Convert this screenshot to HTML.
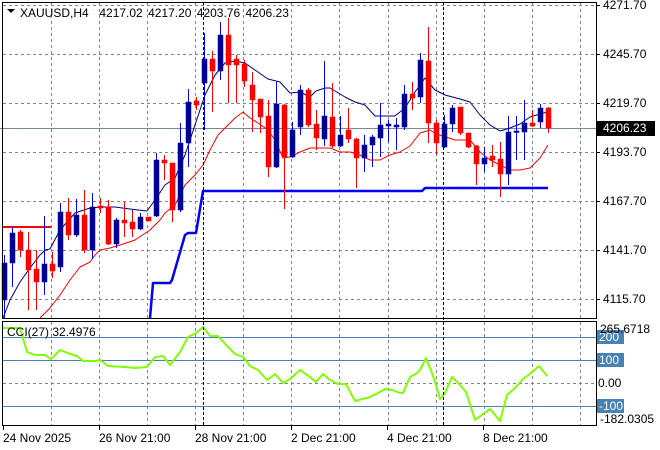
<!DOCTYPE html>
<html><head><meta charset="utf-8"><style>
html,body{margin:0;padding:0;background:#fff;}
svg{display:block;font-family:"Liberation Sans",sans-serif;font-size:12px;}
</style></head><body>
<svg id="s" width="660" height="450" xmlns="http://www.w3.org/2000/svg">
<rect width="660" height="450" fill="#fff"/>
<g id="grid" stroke="#7a8591" stroke-dasharray="3,3" stroke-width="1"></g>
<line x1="0" y1="128.5" x2="596" y2="128.5" stroke="#778899" stroke-width="1"/>
<g id="main"></g>
<line x1="203.5" y1="2" x2="203.5" y2="425" stroke="#000" stroke-dasharray="3,2"/>
<line x1="443.5" y1="2" x2="443.5" y2="425" stroke="#000" stroke-dasharray="3,2"/>
<rect x="2.5" y="2.5" width="594" height="316" fill="none" stroke="#000"/>
<rect x="2.5" y="321.5" width="594" height="104" fill="none" stroke="#000"/>
<text x="20" y="17" fill="#000" xml:space="preserve" style="word-spacing:2px">XAUUSD,H4  4217.02 4217.20 4203.76 4206.23</text>
<path d="M7,9 L15,9 L11,13 Z" fill="#000"/>
<text x="7" y="336" fill="#000">CCI(27) 32.4976</text>
<g id="ax"></g>
</svg>
<script>
var NS="http://www.w3.org/2000/svg";
function el(p,t,a,txt){var e=document.createElementNS(NS,t);for(var k in a)e.setAttribute(k,a[k]);if(txt!==undefined)e.textContent=txt;p.appendChild(e);return e;}
var g=document.getElementById('grid'),m=document.getElementById('main'),ax=document.getElementById('ax');
var hy=[5,54,103,152,201,250,299],hl=["4271.70","4245.70","4219.70","4193.70","4167.70","4141.70","4115.70"];
var vx=[51,99,147,195,243,291,339,388,436,484,532,580];
vx.forEach(function(x){el(g,'line',{x1:x+.5,y1:3,x2:x+.5,y2:318});el(g,'line',{x1:x+.5,y1:322,x2:x+.5,y2:425});});
hy.forEach(function(y,i){el(g,'line',{x1:3,y1:y+.5,x2:596,y2:y+.5});el(ax,'line',{x1:596,y1:y+.5,x2:600,y2:y+.5,stroke:'#000'});el(ax,'text',{x:603,y:y+4,fill:'#000'},hl[i]);});
[337,360,406].forEach(function(y){el(m,'line',{x1:3,y1:y+.5,x2:596,y2:y+.5,stroke:'#4682b4'});});
el(g,'line',{x1:3,y1:383.5,x2:596,y2:383.5});
el(m,'line',{x1:3,y1:227,x2:51,y2:227,stroke:'#ff0000','stroke-width':2});
var C=[[263,300,255,318,'b'],[233,263,227,287,'b'],[232,250,230,257,'r'],[250,270,232,310,'r'],[269,282,250,310,'r'],[264,282,216,295,'b'],[264,271,252,278,'r'],[212,267,203,272,'b'],[212,235,198,240,'r'],[215,235,199,237,'b'],[215,250,190,253,'r'],[207,250,193,259,'b'],[206,208,198,213,'r'],[207,244,200,245,'r'],[220,244,218,248,'b'],[220,223,202,237,'r'],[222,229,210,237,'r'],[217,229,213,230,'b'],[217,221,217,221,'r'],[160,216,153,217,'b'],[160,163,155,180,'r'],[163,210,163,222,'r'],[143,210,123,212,'b'],[102,143,89,167,'b'],[101,105,97,110,'r'],[59,83,33,130,'b'],[59,71,51,112,'r'],[35,71,22,80,'b'],[35,65,18,103,'r'],[59,65,55,103,'r'],[64,81,60,87,'r'],[85,100,72,132,'r'],[99,117,99,133,'r'],[116,167,100,177,'r'],[104,167,82,168,'b'],[105,157,104,209,'r'],[130,157,122,158,'b'],[90,127,85,135,'b'],[90,125,88,127,'r'],[124,138,110,150,'r'],[116,139,61,146,'b'],[117,146,83,148,'r'],[135,146,116,147,'b'],[130,139,108,143,'r'],[139,158,138,188,'r'],[145,158,135,172,'b'],[137,145,135,167,'b'],[125,138,103,157,'b'],[124,126,120,142,'b'],[125,127,118,150,'b'],[94,127,85,130,'b'],[94,98,82,110,'r'],[60,97,53,103,'b'],[61,123,27,143,'r'],[123,143,120,155,'r'],[124,147,115,148,'b'],[108,124,105,132,'b'],[107,133,107,135,'r'],[133,147,133,148,'r'],[146,164,145,185,'r'],[158,164,147,172,'b'],[156,160,145,167,'r'],[159,174,142,197,'r'],[132,174,116,185,'b'],[131,132,116,160,'b'],[123,132,100,160,'b'],[123,126,110,127,'r'],[108,122,104,128,'b'],[108,128,107,133,'r']];
function pl(pts,col,w){el(m,'polyline',{points:pts.map(function(p){return p.join(',')}).join(' '),fill:'none',stroke:col,'stroke-width':w,'stroke-linejoin':'round'});}
pl([[3,318],[10,300],[20,282],[30,268],[40,255],[45,250],[50,249],[60,230],[75,213],[90,208],[100,207],[115,207],[130,209],[147,211],[155,200],[165,185],[175,178],[185,155],[195,125],[205,95],[215,75],[225,63],[235,61],[245,63],[255,70],[268,79],[280,82],[290,93],[300,92],[310,97],[316,91],[325,88],[330,88],[345,97],[355,102],[365,105],[375,116],[395,116],[405,108],[415,92],[425,78],[435,90],[445,95],[460,99],[470,102],[480,115],[490,125],[500,131],[510,128],[520,124],[530,117],[540,114],[548,112]],'#000080',1);
pl([[40,318],[50,308],[60,295],[70,280],[80,267],[90,262],[95,255],[100,250],[110,248],[120,245],[135,240],[150,230],[160,220],[165,213],[175,205],[185,185],[195,175],[203,165],[210,150],[218,135],[228,125],[235,118],[243,112],[250,118],[258,123],[268,130],[275,140],[283,158],[290,157],[300,152],[310,148],[330,148],[340,152],[350,152],[360,155],[370,160],[380,160],[390,155],[400,152],[410,146],[420,133],[430,130],[436,134],[443,136],[455,140],[470,140],[480,152],[490,160],[500,165],[510,170],[520,170],[530,168],[540,158],[548,145]],'#ff0000',1);
pl([[150,318],[153,283],[170,283],[172,280],[185,235],[188,233],[196,233],[199,215],[203,191],[422,191],[425,188],[548,188]],'#0000ff',2.5);
C.forEach(function(c,i){var x=4+8*i;
el(m,'line',{x1:x+.5,y1:c[2],x2:x+.5,y2:c[3],stroke:c[4]=='b'?'#0000ff':'#ff0000'});
var h=Math.max(1.5,c[1]-c[0]);el(m,'rect',{x:x-2,y:c[0],width:5,height:h,fill:c[4]=='b'?'#00008b':'#ff0000',stroke:c[4]=='b'?'#0000cd':'#ff0000','stroke-width':0.5});});
pl([[3,328],[20,328],[27,352],[35,355],[45,355],[51,359],[60,350],[70,354],[77,356],[83,361],[95,361],[100,360],[108,366],[125,367],[135,368],[147,367],[155,357],[163,356],[170,365],[180,352],[188,337],[196,333],[203,327],[210,336],[218,336],[228,347],[235,354],[243,357],[250,366],[258,370],[267,380],[275,374],[283,383],[290,379],[300,370],[310,377],[316,382],[323,374],[330,380],[338,384],[346,384],[355,401],[370,397],[378,393],[385,389],[392,390],[400,393],[403,393],[410,377],[417,373],[420,370],[426,358],[432,373],[436,385],[440,399],[445,393],[452,377],[460,385],[466,392],[475,420],[483,414],[490,409],[500,421],[507,395],[515,388],[523,379],[531,373],[539,366],[547,376]],'#7fff00',2);
el(ax,'rect',{x:597,y:121,width:58,height:15,fill:'#000'});
el(ax,'text',{x:603,y:132,fill:'#fff'},'4206.23');
[[337,'200'],[360,'100'],[406,'-100']].forEach(function(a){el(ax,'rect',{x:597,y:a[0]-7,width:27,height:14,fill:'#4682b4'});el(ax,'text',{x:599,y:a[0]+4,fill:'#fff'},a[1]);});
el(ax,'text',{x:598,y:387,fill:'#000'},'0.00');
el(ax,'text',{x:600,y:333,fill:'#000'},'265.6718');
el(ax,'text',{x:600,y:423,fill:'#000'},'-182.0305');
[[3,'24 Nov 2025'],[99,'26 Nov 21:00'],[195,'28 Nov 21:00'],[291,'2 Dec 21:00'],[387,'4 Dec 21:00'],[483,'8 Dec 21:00']].forEach(function(a){el(ax,'line',{x1:a[0]+.5,y1:426,x2:a[0]+.5,y2:430,stroke:'#000'});el(ax,'text',{x:a[0],y:442,fill:'#000'},a[1]);});
</script>
</body></html>
